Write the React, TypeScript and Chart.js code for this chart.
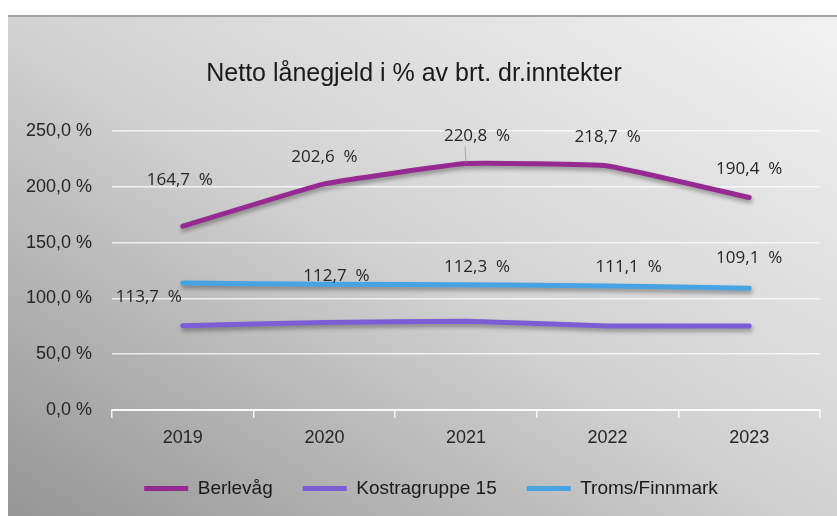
import React, { useEffect, useRef } from "react";
import { Chart, registerables } from "chart.js";

Chart.register(...registerables);

const categories = ["2019", "2020", "2021", "2022", "2023"];
const berlevag = [164.7, 202.6, 220.8, 218.7, 190.4];
const kostra15 = [75.6, 78.4, 79.6, 75.2, 75.3];
const tromsFinnmark = [113.7, 112.7, 112.3, 111.1, 109.1];
const yTicks = [0, 50, 100, 150, 200, 250];

const fmt = (v: number) => v.toFixed(1).replace(".", ",") + " %";
const fmtLabel = (v: number) => v.toFixed(1).replace(".", ",") + "  %";

const labelOffsets: Record<number, [number, number][]> = {
  0: [[-3, -46], [0, -27], [11, -27], [0, -29], [0, -28]],
  2: [[-34, 14], [12, -8], [11, -18], [21, -19], [0, -30]],
};

const shadowPlugin = {
  id: "lineShadow",
  beforeDatasetDraw(chart: any) {
    const ctx = chart.ctx;
    ctx.save();
    ctx.shadowColor = "rgba(0,0,0,0.35)";
    ctx.shadowBlur = 4;
    ctx.shadowOffsetX = 1;
    ctx.shadowOffsetY = 3;
  },
  afterDatasetDraw(chart: any) {
    chart.ctx.restore();
  },
};

const legendShift = {
  id: "legendShift",
  afterLayout(chart: any) {
    const l = chart.legend;
    if (l) {
      l.left += 17;
      l.right += 17;
    }
  },
};

const dataLabelPlugin = {
  id: "dataLabels",
  afterDatasetsDraw(chart: any) {
    const ctx = chart.ctx;
    ctx.save();
    ctx.font = "17px 'Open Sans', 'Noto Sans', sans-serif";
    ctx.fillStyle = "#262626";
    ctx.textAlign = "center";
    ctx.textBaseline = "middle";
    Object.keys(labelOffsets).forEach((k) => {
      const di = Number(k);
      const meta = chart.getDatasetMeta(di);
      const ds = chart.data.datasets[di];
      meta.data.forEach((pt: any, i: number) => {
        const [dx, dy] = labelOffsets[di][i];
        const x = pt.x + dx;
        const y = pt.y + dy;
        if (di === 0 && i === 2) {
          ctx.strokeStyle = "rgba(140,140,140,0.8)";
          ctx.lineWidth = 0.8;
          ctx.beginPath();
          ctx.moveTo(x - 12, y + 10);
          ctx.lineTo(pt.x, pt.y);
          ctx.stroke();
        }
        ctx.fillText(fmtLabel(ds.data[i]), x, y);
      });
    });
    ctx.restore();
  },
};

export default function App() {
  const ref = useRef<HTMLCanvasElement | null>(null);
  useEffect(() => {
    if (!ref.current) return;
    const font = "'Liberation Sans', Arial, sans-serif";
    const chart = new Chart(ref.current, {
      type: "line",
      data: {
        labels: categories,
        datasets: [
          { label: "Berlevåg", data: berlevag, borderColor: "#952b92", backgroundColor: "#952b92" },
          { label: "Kostragruppe 15", data: kostra15, borderColor: "#7b5dd6", backgroundColor: "#7b5dd6" },
          { label: "Troms/Finnmark", data: tromsFinnmark, borderColor: "#48a3e2", backgroundColor: "#48a3e2" },
        ].map((d) => ({
          ...d,
          borderWidth: 5,
          pointRadius: 0,
          pointHoverRadius: 0,
          tension: 0.1,
          borderCapStyle: "round" as const,
          borderJoinStyle: "round" as const,
          fill: false,
        })),
      },
      options: {
        animation: false,
        responsive: false,
        maintainAspectRatio: false,
        layout: { padding: { left: 0, right: 17, top: 0, bottom: 0 } },
        plugins: {
          tooltip: { enabled: false },
          title: {
            display: true,
            text: "Netto lånegjeld i % av brt. dr.inntekter",
            color: "#1a1a1a",
            font: { family: font, size: 25, weight: "normal" },
            padding: { top: 42, bottom: 42 },
          },
          legend: {
            position: "bottom",
            labels: {
              usePointStyle: true,
              pointStyle: "line",
              pointStyleWidth: 44,
              color: "#1a1a1a",
              padding: 30,
              font: { family: font, size: 19 },
            },
          },
        },
        scales: {
          x: {
            offset: true,
            grid: {
              offset: true,
              drawOnChartArea: false,
              drawTicks: true,
              tickLength: 8,
              color: "rgba(255,255,255,0.85)",
              lineWidth: 1.5,
            },
            border: { display: true, color: "rgba(255,255,255,0.85)", width: 2 },
            ticks: { color: "#262626", font: { family: font, size: 18 }, padding: 9 },
            afterFit: (s: any) => { s.height = 39; },
          },
          y: {
            min: 0,
            max: 250,
            afterBuildTicks: (s: any) => { s.ticks = yTicks.map((v) => ({ value: v })); },
            grid: { color: "rgba(255,255,255,0.75)", lineWidth: 1.5, drawTicks: false },
            border: { display: false },
            ticks: {
              color: "#262626",
              font: { family: font, size: 18 },
              padding: 20,
              callback: (v: any) => fmt(Number(v)),
            },
            afterFit: (s: any) => { s.width = 104; },
          },
        },
      },
      plugins: [shadowPlugin, legendShift, dataLabelPlugin],
    });
    return () => chart.destroy();
  }, []);

  return (
    <div
      style={{
        position: "absolute",
        left: 8,
        top: 15,
        width: 829,
        height: 501,
        overflow: "hidden",
        borderTop: "2px solid #a3a3a3",
        background: "linear-gradient(to top right, #959595 0%, #d2d2d2 50%, #f2f2f2 100%)",
      }}
    >
      <canvas ref={ref} width={829} height={491} style={{ display: "block", width: 829, height: 491 }} />
    </div>
  );
}
